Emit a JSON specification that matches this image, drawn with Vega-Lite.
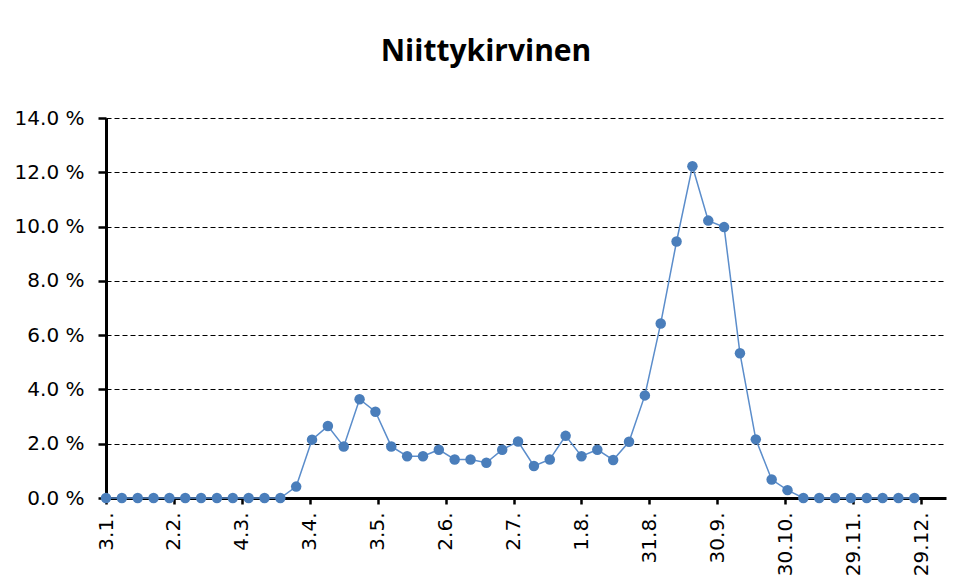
{
  "$schema": "https://vega.github.io/schema/vega-lite/v6.json",
  "width": 840,
  "height": 380,
  "autosize": "none",
  "padding": {"left": 106, "top": 118, "right": 8, "bottom": 85},
  "background": "white",
  "title": {
    "text": "Niittykirvinen",
    "font": "Open Sans",
    "fontSize": 30,
    "fontWeight": "bold",
    "color": "black",
    "anchor": "middle",
    "dx": -40,
    "offset": 17,
    "baseline": "alphabetic"
  },
  "data": {
    "values": [
      {"date": "2021-01-03", "share": 0},
      {"date": "2021-01-10", "share": 0},
      {"date": "2021-01-17", "share": 0},
      {"date": "2021-01-24", "share": 0},
      {"date": "2021-01-31", "share": 0},
      {"date": "2021-02-07", "share": 0},
      {"date": "2021-02-14", "share": 0},
      {"date": "2021-02-21", "share": 0},
      {"date": "2021-02-28", "share": 0},
      {"date": "2021-03-07", "share": 0},
      {"date": "2021-03-14", "share": 0},
      {"date": "2021-03-21", "share": 0},
      {"date": "2021-03-28", "share": 0.42},
      {"date": "2021-04-04", "share": 2.15},
      {"date": "2021-04-11", "share": 2.65},
      {"date": "2021-04-18", "share": 1.9},
      {"date": "2021-04-25", "share": 3.64},
      {"date": "2021-05-02", "share": 3.18},
      {"date": "2021-05-09", "share": 1.9},
      {"date": "2021-05-16", "share": 1.54},
      {"date": "2021-05-23", "share": 1.54},
      {"date": "2021-05-30", "share": 1.78},
      {"date": "2021-06-06", "share": 1.42},
      {"date": "2021-06-13", "share": 1.42},
      {"date": "2021-06-20", "share": 1.3},
      {"date": "2021-06-27", "share": 1.78},
      {"date": "2021-07-04", "share": 2.08},
      {"date": "2021-07-11", "share": 1.18},
      {"date": "2021-07-18", "share": 1.42},
      {"date": "2021-07-25", "share": 2.29},
      {"date": "2021-08-01", "share": 1.54},
      {"date": "2021-08-08", "share": 1.78},
      {"date": "2021-08-15", "share": 1.4},
      {"date": "2021-08-22", "share": 2.07},
      {"date": "2021-08-29", "share": 3.78},
      {"date": "2021-09-05", "share": 6.43},
      {"date": "2021-09-12", "share": 9.45},
      {"date": "2021-09-19", "share": 12.22},
      {"date": "2021-09-26", "share": 10.22},
      {"date": "2021-10-03", "share": 9.98},
      {"date": "2021-10-10", "share": 5.33},
      {"date": "2021-10-17", "share": 2.16},
      {"date": "2021-10-24", "share": 0.68},
      {"date": "2021-10-31", "share": 0.29},
      {"date": "2021-11-07", "share": 0},
      {"date": "2021-11-14", "share": 0},
      {"date": "2021-11-21", "share": 0},
      {"date": "2021-11-28", "share": 0},
      {"date": "2021-12-05", "share": 0},
      {"date": "2021-12-12", "share": 0},
      {"date": "2021-12-19", "share": 0},
      {"date": "2021-12-26", "share": 0}
    ]
  },
  "encoding": {
    "x": {
      "field": "date",
      "type": "temporal",
      "scale": {
        "type": "utc",
        "domain": [
          {"year": 2021, "month": 1, "date": 3, "utc": true},
          {"year": 2022, "month": 1, "date": 9, "utc": true}
        ]
      },
      "axis": {
        "values": [
          {"year": 2021, "month": 1, "date": 3, "utc": true},
          {"year": 2021, "month": 2, "date": 2, "utc": true},
          {"year": 2021, "month": 3, "date": 4, "utc": true},
          {"year": 2021, "month": 4, "date": 3, "utc": true},
          {"year": 2021, "month": 5, "date": 3, "utc": true},
          {"year": 2021, "month": 6, "date": 2, "utc": true},
          {"year": 2021, "month": 7, "date": 2, "utc": true},
          {"year": 2021, "month": 8, "date": 1, "utc": true},
          {"year": 2021, "month": 8, "date": 31, "utc": true},
          {"year": 2021, "month": 9, "date": 30, "utc": true},
          {"year": 2021, "month": 10, "date": 30, "utc": true},
          {"year": 2021, "month": 11, "date": 29, "utc": true},
          {"year": 2021, "month": 12, "date": 29, "utc": true}
        ],
        "labelExpr": "utcFormat(datum.value, '%-d.%-m.')",
        "labelAngle": 270,
        "labelAlign": "right",
        "labelBaseline": "middle",
        "labelFont": "DejaVu Sans",
        "labelFontSize": 20,
        "labelColor": "black",
        "labelPadding": 8,
        "labelOverlap": false,
        "labelFlush": false,
        "tickColor": "black",
        "tickSize": 6,
        "tickWidth": 2.5,
        "domainColor": "black",
        "domainWidth": 3,
        "grid": false,
        "title": null
      }
    },
    "y": {
      "field": "share",
      "type": "quantitative",
      "scale": {"domain": [0, 14], "nice": false},
      "axis": {
        "values": [0, 2, 4, 6, 8, 10, 12, 14],
        "labelExpr": "format(datum.value, '.1f') + ' %'",
        "labelFont": "DejaVu Sans",
        "labelFontSize": 20,
        "labelColor": "black",
        "labelPadding": 14,
        "tickColor": "black",
        "tickSize": 8,
        "tickWidth": 2.5,
        "domainColor": "black",
        "domainWidth": 3,
        "grid": true,
        "gridColor": "black",
        "gridDash": [5, 3],
        "gridWidth": 1,
        "title": null
      }
    }
  },
  "layer": [
    {"mark": {"type": "line", "color": "#5B8DCB", "strokeWidth": 1.5}},
    {"mark": {"type": "point", "filled": true, "size": 110, "color": "#4A7EBB", "opacity": 1}}
  ],
  "config": {"view": {"stroke": null}}
}
